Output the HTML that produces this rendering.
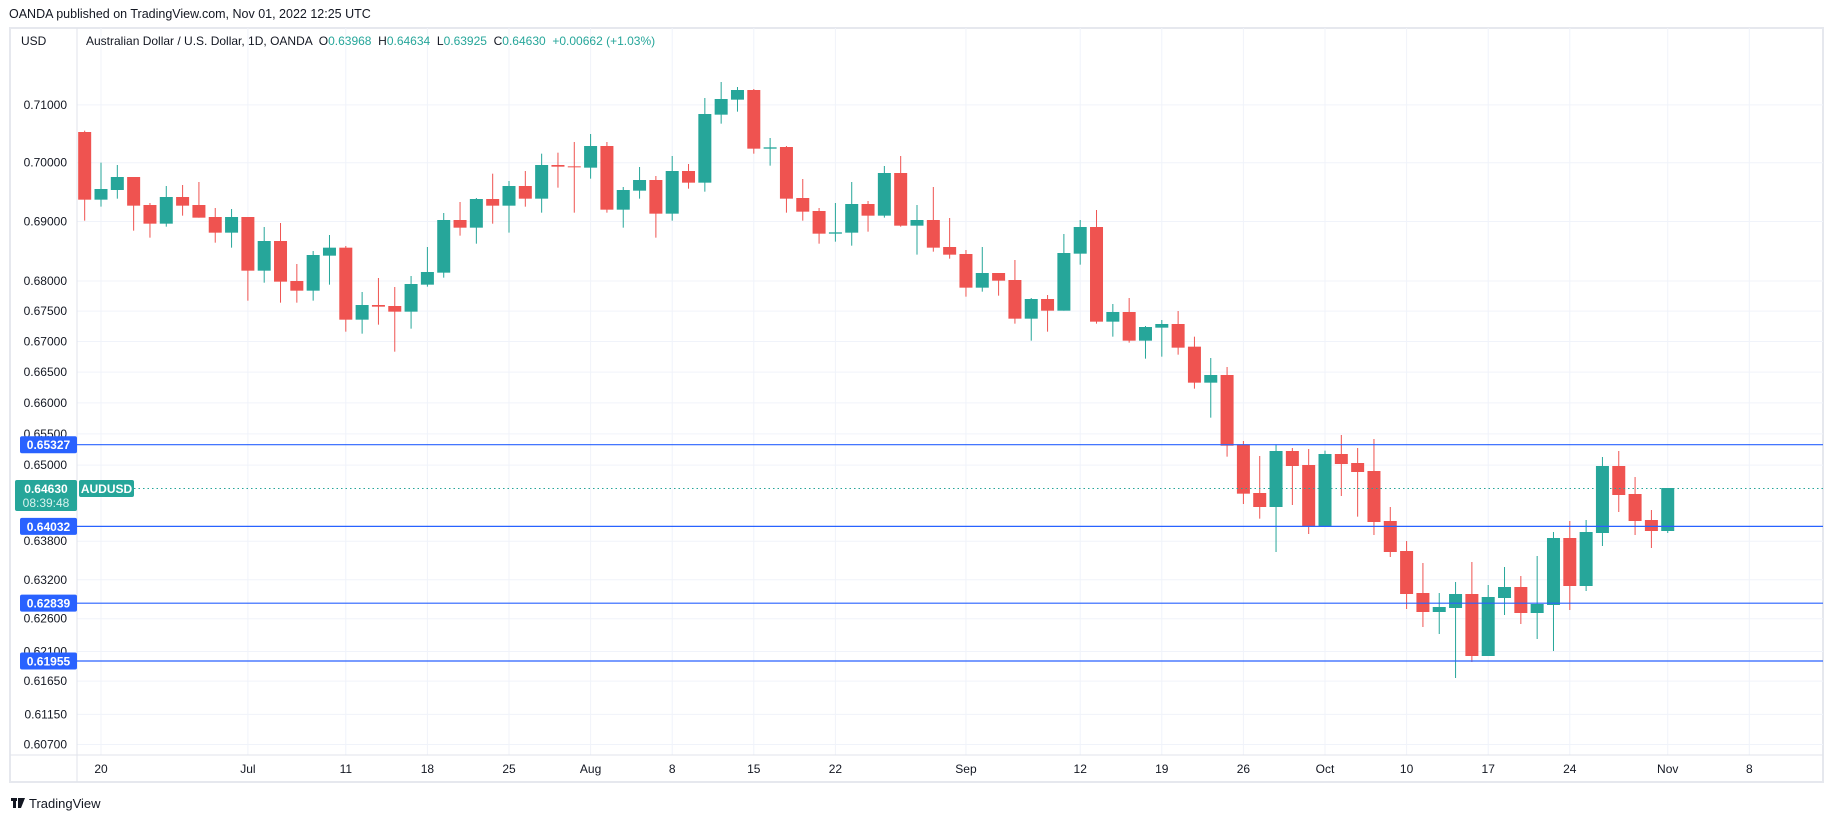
<!DOCTYPE html>
<html><head><meta charset="utf-8">
<style>
html,body{margin:0;padding:0;background:#fff;width:1834px;height:818px;overflow:hidden;font-family:"Liberation Sans",sans-serif;}
svg{position:absolute;left:0;top:0;}
</style></head>
<body>
<svg id="c" width="1834" height="818" viewBox="0 0 1834 818" xmlns="http://www.w3.org/2000/svg"></svg>
<script>
const NS="http://www.w3.org/2000/svg";
const svg=document.getElementById('c');
let out='';
const G='#26a69a',R='#ef5350',B='#2962ff';
const X=i=>101+i*16.32;
const Y=p=>444.7+4081*Math.log(0.65327/p);
// frame
out+=`<rect x="10" y="28" width="1813" height="754" fill="#fff" stroke="#e6e8ee" stroke-width="2"/>`;
// horizontal grid + labels
const plv=[0.71,0.70,0.69,0.68,0.675,0.67,0.665,0.66,0.655,0.65,0.638,0.632,0.626,0.621,0.6165,0.6115,0.607];
plv.forEach(p=>{const y=Y(p);out+=`<line x1="77" x2="1823" y1="${y}" y2="${y}" stroke="#f0f3fa" stroke-width="1"/>`;
out+=`<text x="67" y="${y+4}" font-size="12" fill="#131722" text-anchor="end">${p.toFixed(5)}</text>`;});
// vertical grid + time labels
const tl=[[0,'20'],[9,'Jul'],[15,'11'],[20,'18'],[25,'25'],[30,'Aug'],[35,'8'],[40,'15'],[45,'22'],[53,'Sep'],[60,'12'],[65,'19'],[70,'26'],[75,'Oct'],[80,'10'],[85,'17'],[90,'24'],[96,'Nov'],[101,'8']];
tl.forEach(([i,t])=>{const x=X(i);out+=`<line x1="${x}" x2="${x}" y1="28" y2="755" stroke="#f0f3fa"/>`;
out+=`<text x="${x}" y="773" font-size="12" fill="#131722" text-anchor="middle">${t}</text>`;});
out+=`<line x1="77" x2="77" y1="28" y2="782" stroke="#e0e3eb"/>`;
out+=`<line x1="10" x2="1823" y1="755" y2="755" stroke="#e0e3eb"/>`;
// candles: [i,o,h,l,c] zoom units, with y0
const sets=[
[110,[[-1,66,62,332,269],[0,269,158,290,237],[1,240,165,266,201],[2,201,201,362,287],[3,285,279,383,341],[4,341,228,350,261],[5,261,225,317,287],[6,285,216,323,323],[7,321,294,398,368],[8,368,297,413,321],[9,321,321,572,482],[10,482,351,518,393],[11,393,339,578,515],[12,513,462,578,542],[13,542,423,572,435],[14,437,375,524,413],[15,413,408,665,629],[16,629,546,671,585],[17,585,504,644,590],[18,588,531,725,605],[19,605,498,656,522],[20,524,411,530,486],[21,488,309,503,330],[22,330,276,377,353],[23,353,264,401,267],[24,267,191,341,287],[25,287,213,368,228],[26,228,183,290,266],[27,266,131,308,165],[28,165,128,233,170]]],
[70,[[29,289,216,428,292],[30,293,192,326,228],[31,228,216,428,419],[32,419,351,473,360],[33,362,291,386,330],[34,330,318,503,431],[35,431,258,452,303],[36,303,282,356,338],[37,338,84,365,132],[38,134,36,161,87],[39,89,51,125,60],[40,60,57,251,236],[41,236,204,287,232],[42,231,228,428,386],[43,384,327,452,425],[44,423,414,521,491],[45,491,399,515,487],[46,488,336,527,402],[47,402,393,485,437],[48,437,288,443,309],[49,309,258,470,467],[50,467,405,554,450],[51,450,351,545,533],[52,531,444,566,554],[53,552,540,680,653],[54,653,531,665,609],[55,609,609,677,632],[56,630,570,761,746],[57,746,684,812,687],[58,687,675,785,722]]],
[200,[[59,332,102,332,159],[60,161,60,194,81],[61,81,30,371,365],[62,365,312,410,336],[63,336,294,428,422],[64,422,378,476,381],[65,383,360,470,372],[66,372,333,464,443],[67,440,410,566,548],[68,548,474,653,525],[69,525,501,770,737]]],
[380,[[70,193,183,372,341],[71,339,228,416,381],[72,381,193,516,213],[73,213,204,375,258],[74,255,207,462,438],[75,438,212,438,222],[76,222,165,348,252],[77,249,204,410,276],[78,273,177,465,426],[79,423,381,531,516],[80,513,483,687,642],[81,639,549,741,696],[82,696,639,762,681],[83,684,606,894,642],[84,642,546,846,828],[85,828,615,828,651],[86,654,561,705,621],[87,621,588,732,699],[88,699,528,777,672],[89,675,456,813,474],[90,474,423,690,618],[91,618,420,633,456],[92,459,231,498,258],[93,258,213,396,345],[94,342,291,465,423],[95,420,390,504,453],[96,453,324,459,324]]]
];
let candles='';
sets.forEach(([y0,arr])=>arr.forEach(([i,o,h,l,c])=>{
 const f=v=>y0+v/3;const x=X(i);const up=c<o;const col=(c<o||(c==o&&false))?G:R;
 const isG=(i==96||i==45||i==41)?true:up;const cc=isG?G:R;
 const top=Math.min(f(o),f(c)),bot=Math.max(f(o),f(c));
 candles+=`<line x1="${x}" x2="${x}" y1="${f(h)}" y2="${f(l)}" stroke="${cc}" stroke-width="1"/>`;
 candles+=`<rect x="${x-6.5}" y="${top}" width="13" height="${Math.max(1,bot-top)}" fill="${cc}"/>`;
}));
out+=`<g clip-path="url(#cp)">${candles}</g>`;
out=`<defs><clipPath id="cp"><rect x="78" y="29" width="1745" height="726"/></clipPath></defs>`+out;
// horizontal blue lines
[0.65327,0.64032,0.62839,0.61955].forEach(p=>{const y=Y(p);
out+=`<line x1="77" x2="1823" y1="${y}" y2="${y}" stroke="${B}" stroke-width="1.2"/>`;
out+=`<rect x="20" y="${y-8.5}" width="57" height="17" rx="2" fill="${B}"/>`;
out+=`<text x="48.5" y="${y+4.5}" font-size="12" font-weight="bold" fill="#fff" text-anchor="middle">${p.toFixed(5)}</text>`;});
// current price
const yc=Y(0.6463);
out+=`<line x1="134" x2="1823" y1="${yc}" y2="${yc}" stroke="${G}" stroke-dasharray="1.5,3" stroke-width="1"/>`;
out+=`<rect x="15" y="480" width="62" height="31" rx="2" fill="${G}"/>`;
out+=`<text x="46" y="493" font-size="12" font-weight="bold" fill="#fff" text-anchor="middle">0.64630</text>`;
out+=`<text x="46" y="507" font-size="12" fill="#d8f2ee" text-anchor="middle">08:39:48</text>`;
out+=`<rect x="79" y="480" width="55" height="17" rx="2" fill="${G}"/>`;
out+=`<text x="106.5" y="493" font-size="12" font-weight="bold" fill="#fff" text-anchor="middle">AUDUSD</text>`;
// header / legend
out+=`<text x="9" y="18" font-size="12.5" fill="#131722">OANDA published on TradingView.com, Nov 01, 2022 12:25 UTC</text>`;
out+=`<text x="21" y="45" font-size="12" fill="#131722">USD</text>`;
out+=`<text x="86" y="45" font-size="12" fill="#131722" xml:space="preserve">Australian Dollar / U.S. Dollar, 1D, OANDA  O<tspan fill="${G}">0.63968</tspan>  H<tspan fill="${G}">0.64634</tspan>  L<tspan fill="${G}">0.63925</tspan>  C<tspan fill="${G}">0.64630</tspan>  <tspan fill="${G}">+0.00662 (+1.03%)</tspan></text>`;
// footer
out+=`<rect x="11" y="798" width="6" height="3" fill="#131722"/><rect x="13" y="798" width="3" height="10" fill="#131722"/><path d="M18 798 h7 l-4 10 h-3 z" fill="#131722"/>`;
out+=`<text x="29" y="808" font-size="13" fill="#131722">TradingView</text>`;
svg.innerHTML=out;
</script>
</body></html>
